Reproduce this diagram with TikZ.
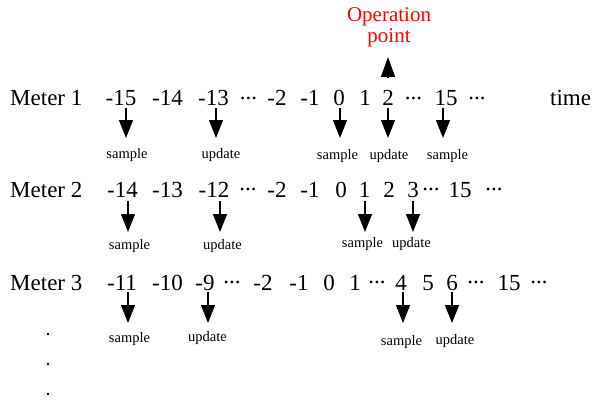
\documentclass[tikz,border=0pt]{standalone}
\usepackage{fontspec}
\setmainfont{Liberation Serif}
\usetikzlibrary{arrows.meta}
\newcommand{\mydots}{\raisebox{0.28em}{...}}
\begin{document}
\begin{tikzpicture}[x=1pt,y=-1pt,
  big/.style={font=\fontsize{23}{27}\selectfont, inner sep=0pt, anchor=base},
  small/.style={font=\fontsize{14.5}{16}\selectfont, inner sep=0pt, anchor=base},
  optext/.style={font=\fontsize{21}{24}\selectfont, inner sep=0pt, anchor=base, text=red},
  arr/.style={line width=1.4pt, -{Triangle[length=18pt,width=14pt]}},
  vdot/.style={circle, fill=black, inner sep=0pt, minimum size=2.6pt}]
\useasboundingbox (0,0) rectangle (593,401);

% Operation point
\node[optext] (op1) at (389,22) {Operation};
\node[optext] (op2) at (389,43) {point};
\coordinate (opb) at (388,78);
\coordinate (opt) at (388,57);
\draw[line width=1.4pt, -{Triangle[length=20pt,width=14pt]}] (opb) -- (opt);

% Meter labels
\node[big, anchor=base west] (m1) at (10,106) {Meter 1};
\node[big, anchor=base west] (m2) at (10,197) {Meter 2};
\node[big, anchor=base west] (m3) at (10,290) {Meter 3};
\node[big, anchor=base west] (time) at (550,106) {time};

% Row 1 tokens
\foreach \x/\t [count=\i] in {121/-15, 167.5/-14, 213.5/-13, 248.5/\mydots, 277/-2, 310/-1, 339/0, 365/1, 388/2, 413.5/\mydots, 446/15, 477/\mydots}
  \node[big] (ra\i) at (\x,106) {\t};
% Row 2 tokens
\foreach \x/\t [count=\i] in {122.5/-14, 167.5/-13, 214/-12, 248/\mydots, 277/-2, 310/-1, 341/0, 364.5/1, 389/2, 413/3, 431/\mydots, 460/15, 494/\mydots}
  \node[big] (rb\i) at (\x,197) {\t};
% Row 3 tokens
\foreach \x/\t [count=\i] in {122/-11, 167.5/-10, 205/-9, 232/\mydots, 263/-2, 299/-1, 329/0, 355/1, 377/\mydots, 401/4, 428/5, 452/6, 476/\mydots, 509/15, 539/\mydots}
  \node[big] (rc\i) at (\x,290) {\t};

% Row 1 arrows and labels
\foreach \x/\n in {126/a, 216/b, 340/c, 388/d, 443/e}{
  \coordinate (p1\n) at (\x,108);
  \coordinate (q1\n) at (\x,138);
  \draw[arr] (p1\n) -- (q1\n);
}
\node[small] (l1a) at (127,158) {sample};
\node[small] (l1b) at (221,158) {update};
\node[small] (l1c) at (337.5,159) {sample};
\node[small] (l1d) at (389,159) {update};
\node[small] (l1e) at (447.5,159) {sample};

% Row 2 arrows and labels
\foreach \x/\n in {128/a, 220/b, 365/c, 413/d}{
  \coordinate (p2\n) at (\x,201);
  \coordinate (q2\n) at (\x,232);
  \draw[arr] (p2\n) -- (q2\n);
}
\node[small] (l2a) at (129.5,249) {sample};
\node[small] (l2b) at (222.5,249) {update};
\node[small] (l2c) at (362.5,247) {sample};
\node[small] (l2d) at (411.5,247) {update};

% Row 3 arrows and labels
\foreach \x/\n in {128/a, 208/b, 403/c, 452/d}{
  \coordinate (p3\n) at (\x,292);
  \coordinate (q3\n) at (\x,323);
  \draw[arr] (p3\n) -- (q3\n);
}
\node[small] (l3a) at (129.5,342) {sample};
\node[small] (l3b) at (207.5,341) {update};
\node[small] (l3c) at (401.5,345) {sample};
\node[small] (l3d) at (455,344) {update};

% vertical dots
\node[vdot] (d1) at (48,334) {};
\node[vdot] (d2) at (48,364) {};
\node[vdot] (d3) at (48,394) {};
\end{tikzpicture}
\end{document}
